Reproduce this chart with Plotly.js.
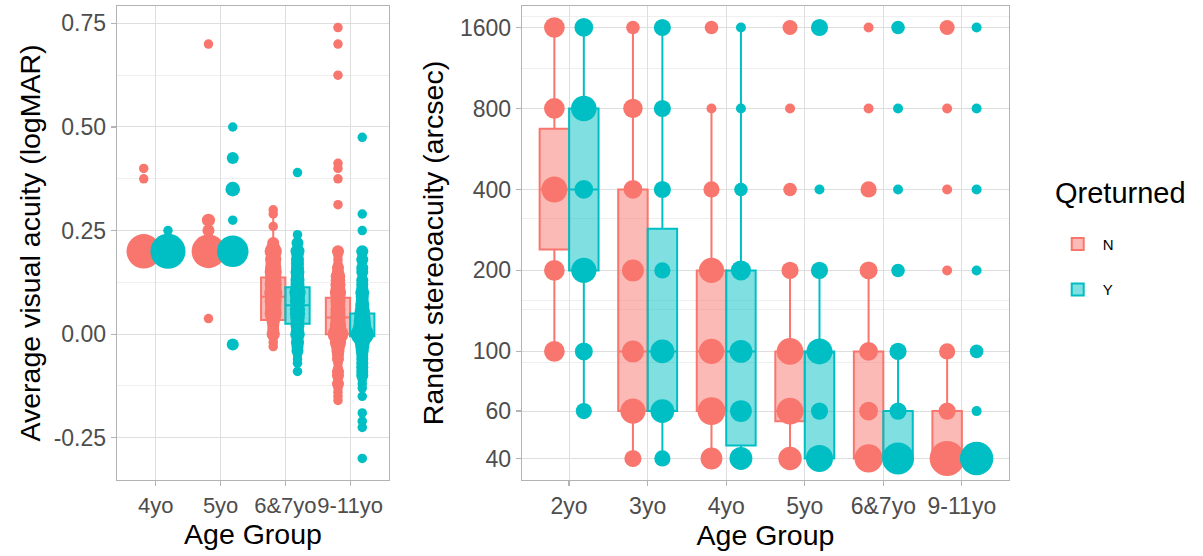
<!DOCTYPE html>
<html><head><meta charset="utf-8">
<script src="https://cdn.plot.ly/plotly-3.0.1.min.js"></script>
<style>html,body{margin:0;padding:0;background:#fff}#chart{width:1203px;height:556px}</style>
</head><body><div id="chart"></div>
<script>
// ---------- Left panel: average visual acuity (logMAR) ----------
const vaGroups = ['4yo', '5yo', '6&7yo', '9-11yo'];

// point values and number of children at each value (Qreturned = N)
const vaN_4yo_val = [0.2, 0.375, 0.4];
const vaN_4yo_cnt = [95, 1, 1];
const vaN_5yo_val = [0.2, 0.25, 0.275, 0.7, 0.0375];
const vaN_5yo_cnt = [90, 2, 3, 1, 1];
const vaN_67_val = [0.30, 0.29, 0.26, 0.22, 0.21, 0.20, 0.19, 0.18, 0.17, 0.16, 0.15, 0.14, 0.13, 0.12, 0.11, 0.10, 0.09, 0.08, 0.07, 0.06, 0.05, 0.04, 0.03, 0.02, 0.01, 0.00, -0.01, -0.02, -0.03];
const vaN_67_cnt = [1, 1, 1, 2, 3, 10, 4, 8, 6, 8, 10, 8, 8, 10, 8, 12, 8, 10, 8, 8, 10, 6, 3, 2, 2, 3, 1, 1, 1];
const vaN_911_val = [0.74, 0.70, 0.625, 0.4125, 0.40, 0.375, 0.3125, 0.20, 0.19, 0.18, 0.17, 0.16, 0.15, 0.14, 0.13, 0.12, 0.11, 0.10, 0.09, 0.08, 0.07, 0.06, 0.05, 0.04, 0.03, 0.02, 0.01, 0.00, -0.01, -0.02, -0.03, -0.04, -0.05, -0.06, -0.07, -0.08, -0.09, -0.10, -0.11, -0.12, -0.13, -0.14, -0.15, -0.16];
const vaN_911_cnt = [1, 1, 1, 1, 1, 1, 1, 2, 1, 1, 1, 2, 2, 5, 5, 6, 5, 8, 5, 6, 5, 6, 6, 6, 6, 8, 8, 20, 8, 8, 4, 3, 2, 2, 1, 1, 2, 2, 1, 2, 1, 1, 1, 1];

// Qreturned = Y
const vaY_4yo_val = [0.2, 0.25];
const vaY_4yo_cnt = [100, 1];
const vaY_5yo_val = [0.2, 0.275, 0.35, 0.425, 0.5, -0.025];
const vaY_5yo_cnt = [75, 1, 5, 2, 1, 2];
const vaY_67_val = [0.39, 0.24, 0.22, 0.20, 0.19, 0.18, 0.17, 0.16, 0.15, 0.14, 0.13, 0.12, 0.11, 0.10, 0.09, 0.08, 0.07, 0.06, 0.05, 0.04, 0.03, 0.02, 0.01, 0.00, -0.01, -0.02, -0.03, -0.04, -0.05, -0.06, -0.07, -0.09];
const vaY_67_cnt = [1, 1, 2, 4, 2, 3, 3, 3, 4, 3, 4, 4, 5, 8, 5, 6, 5, 6, 6, 5, 4, 4, 3, 5, 2, 3, 2, 2, 1, 1, 1, 1];
const vaY_911_val = [0.475, 0.29, 0.25, 0.20, 0.19, 0.18, 0.17, 0.16, 0.15, 0.14, 0.13, 0.12, 0.11, 0.10, 0.09, 0.08, 0.07, 0.06, 0.05, 0.04, 0.03, 0.02, 0.01, 0.00, -0.01, -0.02, -0.03, -0.04, -0.05, -0.06, -0.07, -0.08, -0.09, -0.10, -0.11, -0.12, -0.13, -0.15, -0.19, -0.21, -0.225, -0.30];
const vaY_911_cnt = [1, 1, 1, 2, 1, 2, 1, 2, 2, 1, 2, 2, 2, 4, 3, 3, 4, 5, 8, 8, 10, 12, 14, 28, 8, 6, 4, 3, 2, 2, 2, 2, 2, 2, 1, 1, 1, 1, 1, 1, 1, 1];

// box statistics per age group
const vaBoxN_low = [0.2, 0.2, -0.03, -0.13];
const vaBoxN_q1 = [0.2, 0.2, 0.034, 0.0];
const vaBoxN_med = [0.2, 0.2, 0.09, 0.04];
const vaBoxN_q3 = [0.2, 0.2, 0.137, 0.088];
const vaBoxN_up = [0.2, 0.2, 0.29, 0.20];
const vaBoxY_low = [0.2, 0.2, -0.09, -0.08];
const vaBoxY_q1 = [0.2, 0.2, 0.025, -0.005];
const vaBoxY_med = [0.2, 0.2, 0.07, 0.0];
const vaBoxY_q3 = [0.2, 0.2, 0.113, 0.05];
const vaBoxY_up = [0.2, 0.2, 0.239, 0.13];

const vaTicks = [-0.25, 0, 0.25, 0.5, 0.75];
const vaTickText = ['-0.25', '0.00', '0.25', '0.50', '0.75'];

// ---------- Right panel: Randot stereoacuity (arcsec) ----------
const stGroups = ['2yo', '3yo', '4yo', '5yo', '6&7yo', '9-11yo'];
const stLevels = [40, 60, 100, 200, 400, 800, 1600];
// number of children at each level (order of stLevels)
const stN_2yo = [0, 0, 10, 10, 21, 10, 10];
const stN_3yo = [5, 19, 12, 12, 7, 8, 2];
const stN_4yo = [12, 26, 19, 19, 4, 1, 2];
const stN_5yo = [15, 23, 23, 5, 2, 1, 3];
const stN_67 = [27, 7, 7, 6, 4, 1, 1];
const stN_911 = [50, 5, 4, 1, 1, 1, 3];
const stY_2yo = [0, 4, 6, 19, 7, 20, 7];
const stY_3yo = [4, 16, 16, 4, 5, 5, 5];
const stY_4yo = [14, 12, 14, 9, 2, 1, 1];
const stY_5yo = [24, 5, 21, 5, 1, 0, 5];
const stY_67 = [39, 5, 5, 2, 1, 1, 2];
const stY_911 = [44, 1, 2, 1, 1, 1, 1];

const stBoxN_low = [100, 40, 40, 40, 40, 40];
const stBoxN_q1 = [239, 60, 60, 55, 40, 40];
const stBoxN_med = [400, 100, 100, 60, 40, 40];
const stBoxN_q3 = [672, 400, 200, 100, 100, 60];
const stBoxN_up = [1600, 1600, 800, 200, 200, 100];
const stBoxY_low = [60, 40, 40, 40, 40, 40];
const stBoxY_q1 = [200, 60, 44.7, 40, 40, 40];
const stBoxY_med = [400, 100, 100, 100, 40, 40];
const stBoxY_q3 = [800, 286, 200, 100, 60, 40];
const stBoxY_up = [1600, 1600, 1600, 200, 100, 40];

const stTicks = [40, 60, 100, 200, 400, 800, 1600];
const stMinor = [1765, 1129, 311, 155, 142.6, 90.7];

const legendTitle = 'Qreturned';

// ---------- styling ----------
const RED = '#F8766D', CYAN = '#00BFC4';
const RED_FILL = 'rgba(248,118,109,0.5)', CYAN_FILL = 'rgba(0,191,196,0.5)';
const FONT = 'Liberation Sans, Arial, sans-serif';

function countSize(n, nmin, nmax, dmin, dmax) {
  return dmin + (dmax - dmin) * Math.sqrt((n - nmin) / (nmax - nmin));
}

function buildVA(groupsData) {
  const rows = [];
  groupsData.forEach(([g, vals, cnts]) => vals.forEach((v, i) => rows.push({x: g, y: v, n: cnts[i]})));
  return rows;
}
function buildST(groupsData) {
  const rows = [];
  groupsData.forEach(([g, cnts]) => cnts.forEach((c, i) => { if (c > 0) rows.push({x: g, y: stLevels[i], n: c}); }));
  return rows;
}

const vaRowsN = buildVA([['4yo', vaN_4yo_val, vaN_4yo_cnt], ['5yo', vaN_5yo_val, vaN_5yo_cnt], ['6&7yo', vaN_67_val, vaN_67_cnt], ['9-11yo', vaN_911_val, vaN_911_cnt]]);
const vaRowsY = buildVA([['4yo', vaY_4yo_val, vaY_4yo_cnt], ['5yo', vaY_5yo_val, vaY_5yo_cnt], ['6&7yo', vaY_67_val, vaY_67_cnt], ['9-11yo', vaY_911_val, vaY_911_cnt]]);
const stRowsN = buildST([['2yo', stN_2yo], ['3yo', stN_3yo], ['4yo', stN_4yo], ['5yo', stN_5yo], ['6&7yo', stN_67], ['9-11yo', stN_911]]);
const stRowsY = buildST([['2yo', stY_2yo], ['3yo', stY_3yo], ['4yo', stY_4yo], ['5yo', stY_5yo], ['6&7yo', stY_67], ['9-11yo', stY_911]]);

function pointTrace(rows, color, grp, xa, ya, dmin, dmax, allRows) {
  const ns = allRows.map(r => r.n);
  const nmin = Math.min(...ns), nmax = Math.max(...ns);
  const sorted = rows.slice().sort((a, b) => b.n - a.n);
  return {
    type: 'scatter', mode: 'markers', xaxis: xa, yaxis: ya,
    x: sorted.map(r => r.x), y: sorted.map(r => r.y),
    marker: {color: color, opacity: 1, size: sorted.map(r => countSize(r.n, nmin, nmax, dmin, dmax)), sizemode: 'diameter', line: {width: 0}},
    offsetgroup: grp, legendgroup: grp, showlegend: false, hoverinfo: 'skip'
  };
}
function boxTrace(groups, low, q1, med, q3, up, color, fill, grp, xa, ya, show) {
  return {
    type: 'box', xaxis: xa, yaxis: ya, name: grp, x: groups,
    lowerfence: low, q1: q1, median: med, q3: q3, upperfence: up,
    boxpoints: false, whiskerwidth: 0, fillcolor: fill,
    line: {color: color, width: 2}, offsetgroup: grp, legendgroup: grp, showlegend: show, hoverinfo: 'skip'
  };
}

const vaAll = vaRowsN.concat(vaRowsY);
const stAll = stRowsN.concat(stRowsY);

const data = [
  pointTrace(vaRowsN, RED, 'N', 'x', 'y', 9.5, 35, vaAll),
  pointTrace(vaRowsY, CYAN, 'Y', 'x', 'y', 9.5, 35, vaAll),
  pointTrace(stRowsN, RED, 'N', 'x2', 'y2', 10, 35, stAll),
  pointTrace(stRowsY, CYAN, 'Y', 'x2', 'y2', 10, 35, stAll),
  boxTrace(vaGroups, vaBoxN_low, vaBoxN_q1, vaBoxN_med, vaBoxN_q3, vaBoxN_up, RED, RED_FILL, 'N', 'x', 'y', true),
  boxTrace(vaGroups, vaBoxY_low, vaBoxY_q1, vaBoxY_med, vaBoxY_q3, vaBoxY_up, CYAN, CYAN_FILL, 'Y', 'x', 'y', true),
  boxTrace(stGroups, stBoxN_low, stBoxN_q1, stBoxN_med, stBoxN_q3, stBoxN_up, RED, RED_FILL, 'N', 'x2', 'y2', false),
  boxTrace(stGroups, stBoxY_low, stBoxY_q1, stBoxY_med, stBoxY_q3, stBoxY_up, CYAN, CYAN_FILL, 'Y', 'x2', 'y2', false)
];

const axisCommon = {
  showline: true, mirror: true, linecolor: '#B3B3B3', linewidth: 1.3,
  ticks: 'outside', ticklen: 5, tickwidth: 1.2, tickcolor: '#B3B3B3',
  gridcolor: '#DEDEDE', gridwidth: 1, zeroline: false,
  tickfont: {family: FONT, size: 23, color: '#4D4D4D'}
};
const minorGrid = {ticks: '', showgrid: true, gridcolor: '#EBEBEB', gridwidth: 0.8};

const layout = {
  width: 1203, height: 556,
  margin: {l: 117, r: 194, t: 6, b: 76},
  paper_bgcolor: '#ffffff', plot_bgcolor: '#ffffff',
  font: {family: FONT, color: '#000'},
  boxmode: 'group', boxgap: 0.25, boxgroupgap: 0,
  scattermode: 'group', scattergap: 0.25,
  xaxis: Object.assign({}, axisCommon, {
    domain: [0, 0.3049], anchor: 'y', type: 'category', tickangle: 0,
    tickfont: {family: FONT, size: 22, color: '#4D4D4D'},
    categoryorder: 'array', categoryarray: vaGroups, range: [-0.6, 3.6],
    title: {text: 'Age Group', font: {family: FONT, size: 28.5, color: '#000'}, standoff: 7}
  }),
  yaxis: Object.assign({}, axisCommon, {
    domain: [0, 1], anchor: 'x', range: [-0.352, 0.792],
    tickmode: 'array', tickvals: vaTicks, ticktext: vaTickText,
    minor: Object.assign({tickmode: 'array', tickvals: [-0.125, 0.125, 0.375, 0.625]}, minorGrid),
    title: {text: 'Average visual acuity (logMAR)', font: {family: FONT, size: 28.5, color: '#000'}, standoff: 4}
  }),
  xaxis2: Object.assign({}, axisCommon, {
    domain: [0.454, 1], anchor: 'y2', type: 'category', tickangle: 0,
    categoryorder: 'array', categoryarray: stGroups, range: [-0.6, 5.6],
    title: {text: 'Age Group', font: {family: FONT, size: 28.5, color: '#000'}, standoff: 7}
  }),
  yaxis2: Object.assign({}, axisCommon, {
    domain: [0, 1], anchor: 'x2', type: 'log', range: [1.522, 3.284],
    tickmode: 'array', tickvals: stTicks, ticktext: stTicks.map(String),
    minor: Object.assign({tickmode: 'array', tickvals: stMinor}, minorGrid),
    title: {text: 'Randot stereoacuity (arcsec)', font: {family: FONT, size: 28.5, color: '#000'}, standoff: 8}
  }),
  legend: {
    x: 1.049, xanchor: 'left', y: 0.532, yanchor: 'top',
    font: {family: FONT, size: 15, color: '#000'},
    tracegroupgap: 23, itemwidth: 40, bgcolor: 'rgba(0,0,0,0)'
  },
  annotations: [{
    xref: 'paper', yref: 'paper', x: 1.049, y: 0.6055, xanchor: 'left', yanchor: 'middle',
    text: legendTitle, showarrow: false, font: {family: FONT, size: 29, color: '#000'}
  }],
  showlegend: true
};

Plotly.newPlot('chart', data, layout, {displayModeBar: false, staticPlot: true});
</script>
</body></html>
